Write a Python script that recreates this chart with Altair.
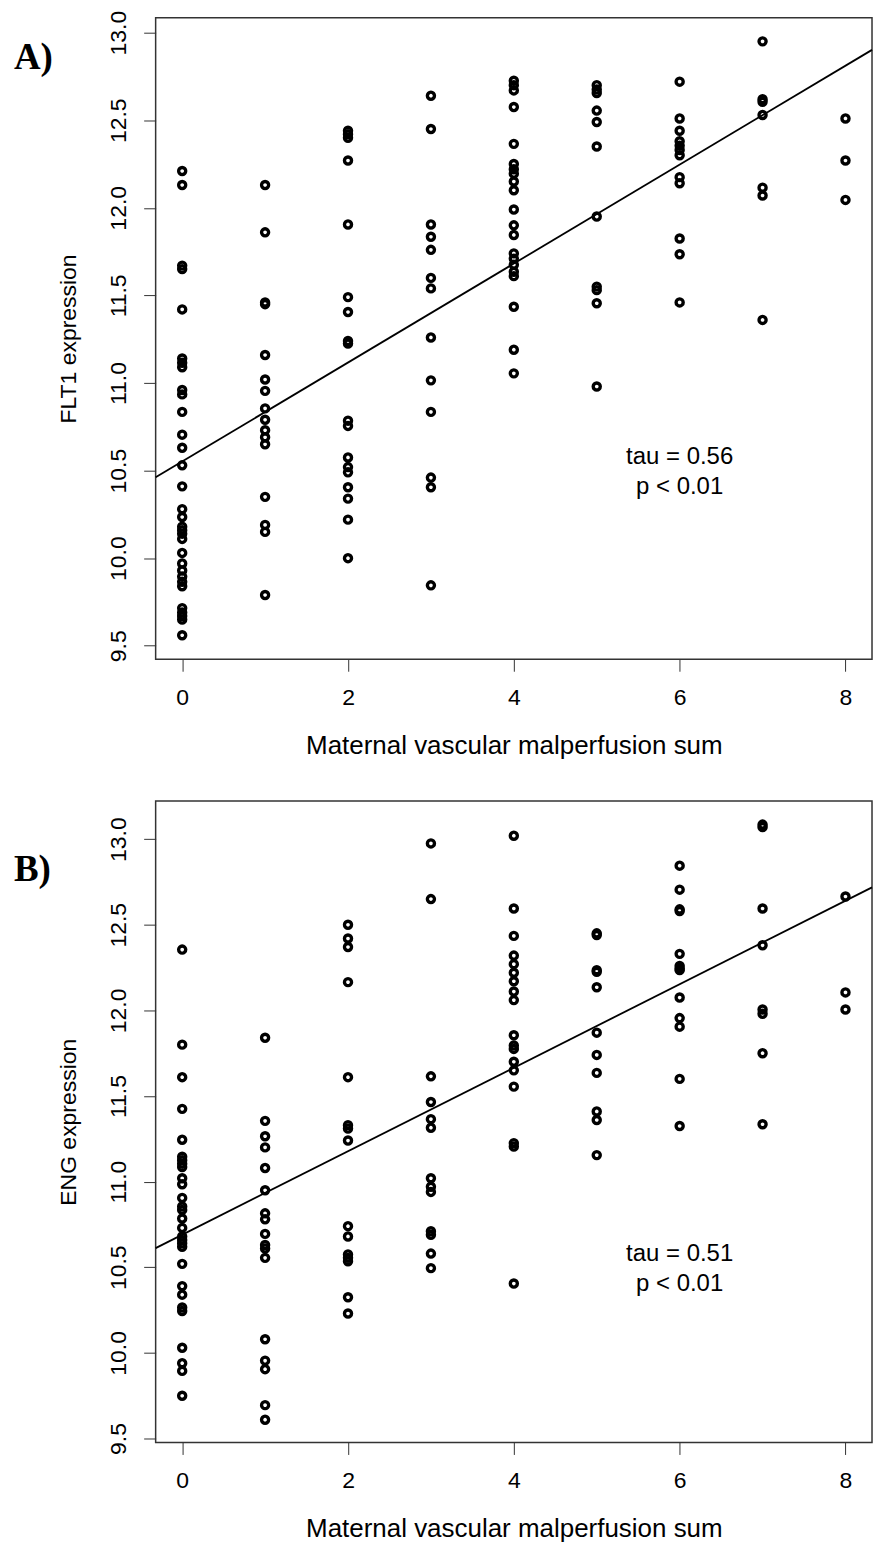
import altair as alt
import pandas as pd

# ---------------- data ----------------
x_ticks = [0, 2, 4, 6, 8]
y_ticks = [9.5, 10.0, 10.5, 11.0, 11.5, 12.0, 12.5, 13.0]
x_title = "Maternal vascular malperfusion sum"
panel_labels = ["A)", "B)"]
y_titles = ["FLT1 expression", "ENG expression"]
stat_texts = ["tau = 0.56\np < 0.01", "tau = 0.51\np < 0.01"]

# FLT1 expression by malperfusion sum (0..8)
flt1_s0 = [12.21, 12.13, 11.67, 11.65, 11.42, 11.14, 11.115, 11.09, 10.96, 10.935,
           10.835, 10.705, 10.63, 10.53, 10.41, 10.28, 10.235, 10.18, 10.16, 10.14,
           10.11, 10.03, 9.97, 9.93, 9.895, 9.865, 9.84, 9.715, 9.69, 9.67, 9.65, 9.56]
flt1_s1 = [12.13, 11.86, 11.46, 11.45, 11.16, 11.02, 10.955, 10.855, 10.79, 10.73,
           10.69, 10.65, 10.35, 10.19, 10.15, 9.79]
flt1_s2 = [12.44, 12.42, 12.40, 12.27, 11.905, 11.49, 11.405, 11.24, 11.225, 10.785,
           10.755, 10.575, 10.52, 10.49, 10.405, 10.34, 10.22, 10.0]
flt1_s3 = [12.64, 12.45, 11.905, 11.835, 11.76, 11.6, 11.54, 11.26, 11.015, 10.835,
           10.46, 10.405, 9.845]
flt1_s4 = [12.725, 12.70, 12.67, 12.575, 12.365, 12.25, 12.22, 12.195, 12.15, 12.10,
           11.99, 11.90, 11.845, 11.74, 11.71, 11.675, 11.635, 11.61, 11.435, 11.19, 11.055]
flt1_s5 = [12.70, 12.675, 12.655, 12.555, 12.49, 12.35, 11.95, 11.55, 11.53, 11.455, 10.98]
flt1_s6 = [12.72, 12.51, 12.44, 12.38, 12.355, 12.33, 12.30, 12.175, 12.14, 11.825,
           11.735, 11.46]
flt1_s7 = [12.95, 12.62, 12.605, 12.53, 12.115, 12.07, 11.36]
flt1_s8 = [12.51, 12.27, 12.045]

# ENG expression by malperfusion sum (0..8)
eng_s0 = [12.355, 11.80, 11.61, 11.425, 11.245, 11.145, 11.125, 11.105, 11.085, 11.02,
          10.985, 10.905, 10.855, 10.835, 10.785, 10.73, 10.68, 10.66, 10.64, 10.62,
          10.52, 10.39, 10.34, 10.265, 10.245, 10.03, 9.94, 9.895, 9.75]
eng_s1 = [11.84, 11.355, 11.265, 11.2, 11.08, 10.95, 10.815, 10.78, 10.695, 10.63,
          10.61, 10.555, 10.08, 9.955, 9.905, 9.695, 9.61]
eng_s2 = [12.50, 12.42, 12.37, 12.165, 11.61, 11.33, 11.31, 11.24, 10.74, 10.68,
          10.575, 10.555, 10.535, 10.325, 10.23]
eng_s3 = [12.975, 12.65, 11.615, 11.465, 11.365, 11.315, 11.02, 10.97, 10.94, 10.71,
          10.69, 10.58, 10.495]
eng_s4 = [13.02, 12.595, 12.435, 12.32, 12.27, 12.22, 12.17, 12.11, 12.06, 11.855,
          11.795, 11.775, 11.70, 11.65, 11.555, 11.225, 11.205, 10.405]
eng_s5 = [12.45, 12.44, 12.235, 12.225, 12.135, 11.87, 11.74, 11.635, 11.41, 11.36, 11.155]
eng_s6 = [12.845, 12.705, 12.59, 12.58, 12.33, 12.26, 12.245, 12.235, 12.075, 11.955,
          11.905, 11.60, 11.325]
eng_s7 = [13.085, 13.07, 12.595, 12.38, 12.005, 11.98, 11.75, 11.335]
eng_s8 = [12.665, 12.105, 12.005]

# fitted lines (intercept, slope)
flt1_fit = (10.552, 0.2824)
eng_fit = (10.690, 0.2438)

x_domain = [-0.32, 8.32]
flt1_domain = [9.423, 13.085]
eng_domain = [9.477, 13.223]

# ---------------- chart ----------------
FONT = "Liberation Sans"
W, H = 718, 643          # plot area of each panel
LEFT, TOP = 155, 15      # plot origin inside the page
PAGE_W = 878
BOTTOM_EXTRA = 103       # room under the lower panel


def build(columns, fit, ydom, ytitle, label, stat, label_y, frame_rule):
    rows = [(s, v) for s, vals in enumerate(columns) for v in vals]
    df = pd.DataFrame(rows, columns=["mvm", "expr"])
    xs = alt.Scale(domain=x_domain, nice=False, zero=False)
    ys = alt.Scale(domain=ydom, nice=False, zero=False)
    xaxis = alt.Axis(values=x_ticks, format="d", title=x_title, grid=False, domain=False,
                     tickSize=12, tickColor="#333", tickWidth=1,
                     labelFont=FONT, labelFontSize=23, labelColor="black",
                     labelPadding=15, labelBaseline="top", labelFlush=False,
                     labelOverlap=False,
                     titleFont=FONT, titleFontSize=26, titleFontWeight="normal",
                     titleColor="black", titleX=W / 2, titleY=94,
                     titleAlign="center", titleBaseline="alphabetic")
    yaxis = alt.Axis(values=y_ticks, format=".1f", title=ytitle, grid=False, domain=False,
                     tickSize=12, tickColor="#333", tickWidth=1,
                     labelFont=FONT, labelFontSize=23, labelColor="black",
                     labelAngle=270, labelAlign="center", labelBaseline="alphabetic",
                     labelPadding=18, labelFlush=False, labelOverlap=False,
                     titleFont=FONT, titleFontSize=23, titleFontWeight="normal",
                     titleColor="black", titleAngle=270, titleX=-80, titleY=H / 2,
                     titleAlign="center", titleBaseline="alphabetic")

    pts = alt.Chart(df).mark_point(
        shape="circle", filled=False, stroke="black", strokeWidth=3.4, size=50, opacity=1
    ).encode(x=alt.X("mvm:Q", scale=xs, axis=xaxis),
             y=alt.Y("expr:Q", scale=ys, axis=yaxis))

    a, b = fit
    line_df = pd.DataFrame({"mvm": x_domain, "expr": [a + b * x for x in x_domain]})
    line = alt.Chart(line_df).mark_line(color="black", strokeWidth=1.8).encode(
        x="mvm:Q", y="expr:Q")

    stat_df = pd.DataFrame({"mvm": [6], "expr": [10.535], "t": [stat]})
    stat_txt = alt.Chart(stat_df).mark_text(
        font=FONT, fontSize=24, color="black", align="center", baseline="alphabetic",
        lineBreak="\n", lineHeight=30
    ).encode(x="mvm:Q", y="expr:Q", text="t:N")

    lab_df = pd.DataFrame({"t": [label]})
    lab = alt.Chart(lab_df).mark_text(
        font="Liberation Serif", fontSize=37, fontWeight="bold", color="black",
        align="left", baseline="alphabetic"
    ).encode(x=alt.value(-142), y=alt.value(label_y), text="t:N")

    # white guide that fixes the page extent (keeps layout predictable)
    guide = alt.Chart(lab_df).mark_rule(color="white", strokeWidth=1).encode(
        x=alt.value(-LEFT + 0.5), x2=alt.value(PAGE_W - LEFT - 0.5),
        y=alt.value(frame_rule))

    return alt.layer(guide, pts, line, stat_txt, lab).properties(width=W, height=H)


flt1_cols = [flt1_s0, flt1_s1, flt1_s2, flt1_s3, flt1_s4, flt1_s5, flt1_s6, flt1_s7, flt1_s8]
eng_cols = [eng_s0, eng_s1, eng_s2, eng_s3, eng_s4, eng_s5, eng_s6, eng_s7, eng_s8]

top = build(flt1_cols, flt1_fit, flt1_domain, y_titles[0], panel_labels[0], stat_texts[0],
            51, -TOP + 0.5)
bottom = build(eng_cols, eng_fit, eng_domain, y_titles[1], panel_labels[1], stat_texts[1],
               80, H + BOTTOM_EXTRA - 0.5)

chart = alt.vconcat(top, bottom, spacing=142, bounds="flush").configure_view(
    stroke="#333", strokeWidth=1.5
).properties(padding=0, background="white")

chart.save("out.html", embed_options={"renderer": "svg", "actions": False})
